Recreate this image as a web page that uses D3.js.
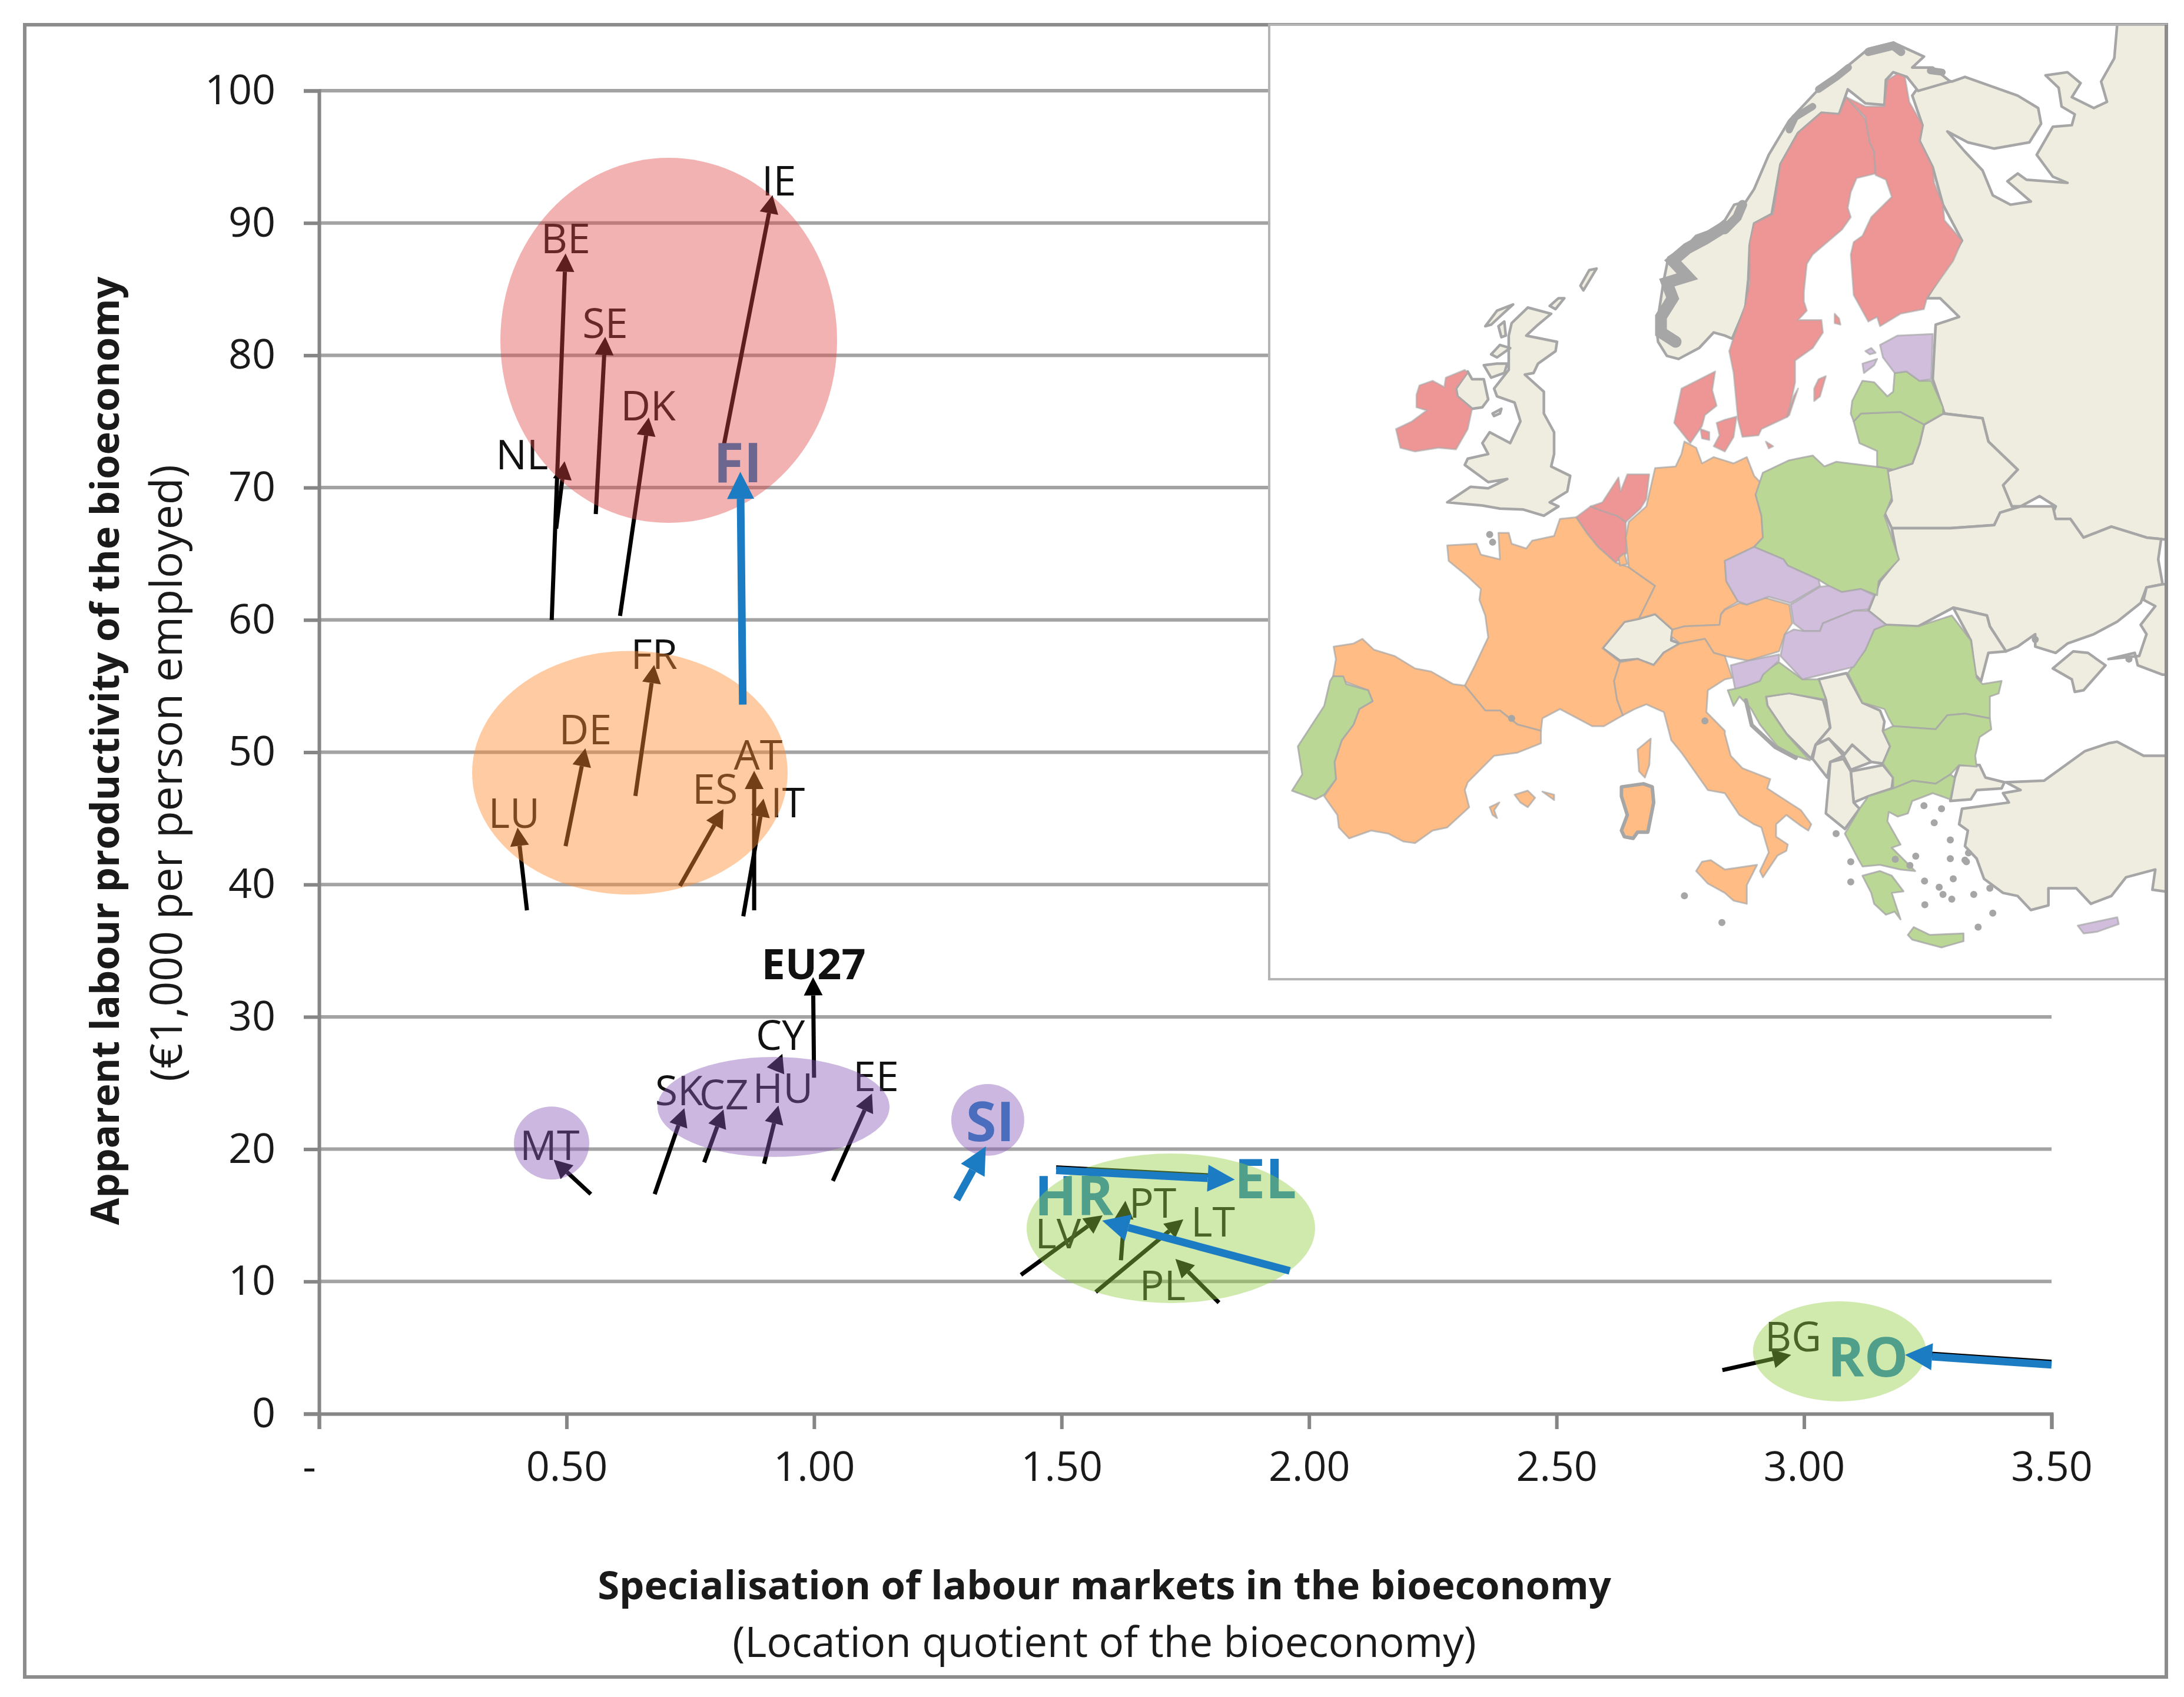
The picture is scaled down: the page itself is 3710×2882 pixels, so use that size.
<!DOCTYPE html>
<html>
<head>
<meta charset="utf-8">
<script src="https://cdn.jsdelivr.net/npm/d3@7.9.0/dist/d3.min.js"></script>
<style>
  body { margin: 0; background: #fff; }
  text { font-family: "Open Sans", sans-serif; }
  #chart { filter: blur(0.7px); }
</style>
</head>
<body>
<svg id="chart" width="3710" height="2882"></svg>
<script>
// Country codes and arrow ends
const codes = ['BE','NL','SE','DK','IE','FI','FR','DE','LU','ES','AT','IT','EU27','CY','SK','CZ','HU','EE','MT','SI','EL','HR','LV','PT','LT','PL','BG','RO'];
const lqFrom = [0.47,0.479,0.559,0.608,0.813,0.856,0.639,0.498,0.42,0.729,0.879,0.857,1.0,0.923,0.678,0.778,0.899,1.038,0.549,1.288,1.489,1.961,1.418,1.62,1.569,1.818,2.835,3.5];
const lqTo = [0.498,0.496,0.578,0.666,0.916,0.851,0.677,0.538,0.401,0.817,0.879,0.898,0.998,0.936,0.738,0.817,0.928,1.117,0.474,1.347,1.85,1.582,1.583,1.629,1.746,1.73,2.974,3.204];
const prodFrom = [60,66.9,68,60.3,72.3,53.6,46.7,42.9,38.05,39.9,38.05,37.6,25.4,26,16.6,19,18.9,17.6,16.6,16.2,18.4,10.8,10.5,11.6,9.2,8.4,3.3,3.7];
const prodTo = [87.7,72,81.4,75.3,92.1,71.2,56.6,50.3,44.3,45.7,48.6,46.5,33,27.2,23.1,23,23.3,24.2,19.2,20.2,17.7,14.6,15,16.1,14.7,11.7,4.45,4.45];

// Label centres in data units
const labelLq = [0.498,0.41,0.578,0.665,0.929,0.846,0.677,0.538,0.394,0.80,0.887,0.947,0.999,0.932,0.727,0.818,0.937,1.125,0.466,1.356,1.912,1.525,1.493,1.684,1.806,1.704,2.978,3.129];
const labelProd = [88.9,72.6,82.5,76.3,93.3,72.0,57.5,51.8,45.5,47.3,49.9,46.3,34.1,28.7,24.5,24.2,24.7,25.6,20.4,22.2,17.9,16.6,13.7,16.0,14.6,9.8,5.9,4.4];

const blueCodes = ['FI','SI','EL','HR','RO'];
const boldCodes = ['FI','SI','EL','HR','RO','EU27'];
const blackEdgeCodes = ['EL','RO'];

// Country-group ellipses (centre and radii in data units)
const clusterNames = ['high','mid','low','malta','slovenia','southeast','balkan'];
const clusterLq = [0.7064,0.6279,0.9181,0.4697,1.3509,1.7208,3.0716];
const clusterProd = [81.13,48.45,23.19,20.46,22.21,14.02,4.72];
const clusterRx = [0.3401,0.3187,0.2343,0.0761,0.0737,0.2914,0.1748];
const clusterRy = [13.8,9.21,3.78,2.76,2.71,5.65,3.78];
const clusterFill = ['rgb(225,72,72)','rgb(252,140,50)','rgb(136,91,182)','rgb(136,91,182)','rgb(136,91,182)','rgb(148,205,68)','rgb(148,205,68)'];
const clusterAlpha = [0.42,0.45,0.44,0.44,0.44,0.44,0.44];

const xTicks = [0,0.5,1,1.5,2,2.5,3,3.5];
const yTicks = [0,10,20,30,40,50,60,70,80,90,100];

// Inset map outlines, traced by hand in a 3136 x 3136 box
const russia = [[2908,20],[2898,130],[2853,205],[2873,270],[2828,290],[2753,255],[2783,210],[2738,175],[2663,185],[2708,225],[2718,285],[2763,310],[2753,345],[2688,350],[2633,440],[2688,510],[2738,530],[2598,520],[2568,500],[2533,525],[2613,590],[2543,600],[2483,570],[2448,490],[2388,430],[2328,365],[2398,400],[2488,420],[2608,400],[2648,340],[2638,290],[2568,250],[2388,190],[2343,205],[2258,185],[2208,250],[2243,345],[2233,395],[2278,480],[2313,600],[2378,715],[2258,900],[2303,900],[2368,960],[2288,985],[2278,1160],[2318,1270],[2448,1285],[2468,1360],[2568,1450],[2518,1500],[2548,1568],[2578,1568],[2643,1535],[2698,1568],[2688,1590],[2698,1608],[2748,1608],[2793,1668],[2888,1633],[3008,1668],[3058,1673],[3136,1680],[3136,0],[2908,0]];
const norway = [[1410,1095],[1370,1085],[1340,1040],[1335,1000],[1340,960],[1350,900],[1358,850],[1375,770],[1440,730],[1470,700],[1530,680],[1568,650],[1600,600],[1640,590],[1668,550],[1718,440],[1788,330],[1878,240],[1968,170],[2058,100],[2143,80],[2248,125],[2208,160],[2278,160],[2338,205],[2228,235],[2190,190],[2143,175],[2118,200],[2113,280],[2048,275],[1988,230],[1958,310],[1898,305],[1818,370],[1758,470],[1728,630],[1668,660],[1653,730],[1648,840],[1638,930],[1593,1030],[1568,1020],[1530,1010],[1480,1060]];
const belarus = [[2313,1270],[2448,1285],[2468,1360],[2568,1450],[2518,1500],[2548,1568],[2578,1568],[2508,1588],[2488,1628],[2338,1638],[2138,1638],[2113,1588],[2138,1550],[2123,1455],[2208,1430],[2233,1365],[2248,1305]];
const ukraine = [[2138,1638],[2338,1638],[2488,1628],[2508,1588],[2578,1568],[2688,1568],[2698,1608],[2748,1608],[2793,1668],[2888,1633],[3008,1668],[3058,1673],[3048,1738],[3063,1818],[3008,1828],[2988,1878],[2908,1938],[2828,1978],[2738,2008],[2698,2038],[2628,2018],[2628,1978],[2568,2018],[2528,2033],[2473,1953],[2463,1918],[2348,1893],[2228,1953],[2118,1948],[2058,1903],[2098,1808],[2158,1738]];
const crimea = [[2688,2088],[2758,2033],[2808,2038],[2868,2078],[2793,2158],[2763,2163],[2753,2123]];
const kuban = [[2878,2058],[2968,2038],[2978,2078],[3063,2108],[3136,2108],[3136,1818],[3063,1818],[3008,1828],[2998,1868],[3038,1888],[2988,1948],[3008,1978],[2983,2048]];
const moldova = [[2348,1893],[2463,1918],[2473,1953],[2528,2033],[2468,2038],[2443,2128],[2423,2108],[2408,1998]];
const turkey = [[2368,2588],[2378,2538],[2538,2518],[2518,2488],[2578,2478],[2528,2453],[2658,2448],[2798,2353],[2878,2328],[2908,2323],[2998,2368],[3068,2368],[3136,2368],[3136,2803],[3068,2803],[3028,2798],[3038,2733],[2938,2758],[2888,2818],[2818,2843],[2768,2793],[2673,2793],[2673,2848],[2613,2863],[2568,2818],[2518,2808],[2453,2763],[2428,2698],[2388,2658],[2398,2608]];
const thrace = [[2353,2438],[2368,2398],[2438,2398],[2458,2438],[2523,2453],[2513,2473],[2428,2478],[2408,2508],[2338,2513]];
const britain = [[895,930],[975,950],[930,985],[890,1020],[995,1040],[990,1070],[930,1110],[915,1140],[885,1145],[950,1200],[950,1270],[985,1330],[985,1400],[975,1440],[1040,1470],[1030,1520],[970,1555],[1000,1568],[950,1598],[880,1578],[800,1575],[740,1565],[620,1555],[700,1505],[760,1510],[825,1480],[760,1490],[680,1435],[690,1415],[760,1400],[740,1365],[765,1330],[835,1365],[870,1295],[850,1235],[790,1215],[780,1190],[830,1130],[830,1060],[830,1020],[840,980]];
const ulster = [[690,1135],[705,1160],[745,1160],[760,1225],[740,1250],[705,1255],[655,1215],[650,1190]];
const lewis = [[750,990],[790,940],[845,920],[810,950],[770,985]];
const skye = [[795,990],[815,975],[820,1020],[805,1025]];
const mull = [[770,1080],[800,1050],[835,1060],[790,1090]];
const islay = [[745,1115],[790,1110],[825,1110],[815,1140],[770,1155]];
const orkney = [[970,925],[1000,900],[1020,900],[990,935]];
const shetland = [[1075,860],[1105,810],[1130,805],[1085,875]];
const man = [[775,1270],[805,1255],[800,1270],[780,1278]];
const switzerland = [[1150,2023],[1225,1938],[1275,1928],[1330,1913],[1390,1963],[1385,1998],[1415,2008],[1360,2038],[1325,2078],[1270,2058],[1210,2063]];
const bosnia = [[1708,2178],[1788,2166],[1903,2188],[1913,2218],[1928,2278],[1878,2333],[1863,2378],[1778,2298],[1713,2208]];
const serbia = [[1888,2123],[1983,2103],[2038,2198],[2098,2223],[2113,2258],[2108,2288],[2133,2338],[2108,2393],[2068,2388],[2003,2333],[1978,2363],[1923,2313],[1878,2333],[1928,2278],[1913,2188]];
const montenegro = [[1878,2333],[1923,2313],[1973,2368],[1928,2388],[1918,2438],[1868,2378]];
const kosovo = [[2003,2333],[2068,2388],[1998,2413],[1973,2368]];
const macedonia = [[1998,2418],[2108,2398],[2143,2438],[2138,2473],[2058,2498],[2008,2518]];
const albania = [[1928,2388],[1973,2378],[1998,2418],[2008,2518],[2028,2538],[1978,2603],[1913,2553],[1923,2448]];
const beigeLand = [russia,norway,belarus,ukraine,crimea,kuban,moldova,turkey,thrace,britain,ulster,lewis,skye,mull,islay,orkney,shetland,man,switzerland,bosnia,serbia,montenegro,kosovo,macedonia,albania];

const ireland = [[525,1180],[570,1165],[610,1185],[615,1155],[680,1130],[690,1140],[650,1190],[655,1215],[705,1255],[690,1320],[650,1385],[590,1380],[510,1392],[460,1380],[445,1320],[500,1295],[550,1260],[515,1250],[515,1210]];
const sweden = [[1983,255],[2048,325],[2063,400],[2078,430],[2083,500],[2018,515],[1998,560],[1988,610],[1998,640],[1968,680],[1918,720],[1868,760],[1848,790],[1838,880],[1838,910],[1848,940],[1818,970],[1898,970],[1903,1010],[1868,1060],[1808,1100],[1808,1170],[1783,1280],[1693,1320],[1683,1340],[1628,1345],[1613,1290],[1598,1140],[1583,1070],[1593,1040],[1638,920],[1653,850],[1653,720],[1668,660],[1733,630],[1758,470],[1818,370],[1898,305],[1958,310]];
const finland = [[2158,180],[2183,190],[2198,270],[2243,345],[2233,395],[2278,480],[2283,530],[2313,600],[2318,650],[2378,715],[2348,780],[2258,900],[2248,935],[2168,950],[2098,990],[2088,960],[2058,975],[2008,890],[1998,760],[2008,720],[2038,700],[2068,640],[2138,575],[2118,520],[2083,505],[2078,430],[2063,400],[2048,320],[1983,255],[2048,285],[2113,285],[2123,200]];
const gotland = [[1913,1150],[1893,1215],[1873,1230],[1873,1190],[1888,1160]];
const oland = [[1818,1190],[1788,1275],[1780,1280],[1803,1215]];
const aland = [[1943,950],[1958,965],[1963,985],[1943,980]];
const bornholm = [[1708,1360],[1733,1375],[1718,1382]];
const jutland = [[1535,1135],[1525,1195],[1540,1245],[1500,1275],[1490,1310],[1450,1365],[1395,1300],[1420,1190]];
const funen = [[1485,1320],[1515,1330],[1515,1355],[1490,1350]];
const zealand = [[1540,1300],[1568,1290],[1608,1280],[1598,1345],[1568,1392],[1530,1375],[1550,1340]];
const belgium = [[1060,1603],[1110,1568],[1200,1598],[1230,1618],[1232,1718],[1195,1748],[1135,1698],[1100,1658]];
const netherlands = [[1150,1555],[1205,1475],[1212,1520],[1235,1465],[1310,1465],[1300,1545],[1280,1575],[1230,1618],[1200,1598],[1150,1583],[1110,1568]];
const redLand = [ireland,sweden,finland,gotland,oland,aland,bornholm,jutland,funen,zealand,belgium,netherlands];

const france = [[620,1693],[720,1688],[735,1723],[800,1738],[795,1653],[830,1653],[840,1688],[890,1703],[910,1678],[985,1663],[1005,1608],[1060,1603],[1100,1658],[1135,1698],[1195,1748],[1240,1763],[1330,1823],[1275,1928],[1225,1938],[1150,2023],[1210,2068],[1190,2128],[1200,2188],[1220,2238],[1155,2273],[1115,2273],[1005,2218],[945,2248],[940,2288],[860,2268],[800,2223],[750,2223],[680,2143],[715,2078],[760,1988],[750,1918],[730,1868],[735,1833],[690,1793],[625,1743]];
const spain = [[232,2018],[300,2008],[330,1993],[370,2028],[440,2048],[510,2088],[565,2098],[640,2138],[680,2143],[750,2223],[800,2223],[860,2268],[940,2288],[940,2328],[860,2358],[780,2368],[690,2453],[680,2478],[695,2533],[620,2598],[570,2608],[510,2648],[470,2643],[420,2618],[360,2608],[285,2633],[250,2598],[245,2558],[200,2498],[240,2443],[235,2388],[260,2318],[300,2268],[320,2218],[365,2193],[350,2158],[265,2128],[230,2113],[240,2058]];
const germany = [[1300,1568],[1330,1445],[1400,1440],[1420,1400],[1430,1360],[1470,1380],[1490,1430],[1530,1410],[1598,1430],[1643,1410],[1668,1470],[1698,1500],[1673,1530],[1693,1598],[1698,1668],[1668,1698],[1568,1743],[1573,1808],[1613,1873],[1568,1898],[1555,1913],[1550,1948],[1430,1953],[1390,1963],[1330,1913],[1275,1928],[1330,1823],[1240,1763],[1230,1668],[1240,1618]];
const luxembourg = [[1205,1733],[1225,1718],[1235,1753],[1210,1758]];
const austria = [[1390,1963],[1430,1953],[1550,1948],[1555,1915],[1568,1900],[1618,1878],[1643,1883],[1693,1858],[1788,1883],[1798,1943],[1773,1978],[1753,2033],[1648,2063],[1568,2048],[1530,2038],[1500,1993],[1415,2008],[1385,1985]];
const italy = [[1210,2068],[1270,2058],[1325,2078],[1360,2038],[1415,2008],[1500,1993],[1530,2038],[1568,2048],[1593,2118],[1568,2123],[1510,2158],[1505,2228],[1568,2288],[1568,2298],[1588,2368],[1628,2408],[1723,2443],[1713,2473],[1828,2543],[1863,2588],[1853,2608],[1828,2593],[1778,2558],[1743,2588],[1743,2628],[1783,2653],[1778,2673],[1748,2688],[1698,2758],[1688,2738],[1718,2678],[1693,2598],[1668,2588],[1618,2558],[1568,2488],[1510,2478],[1420,2358],[1385,2318],[1360,2228],[1300,2203],[1260,2218],[1220,2238],[1200,2188],[1190,2128]];
const sicily = [[1470,2738],[1490,2708],[1520,2703],[1568,2733],[1678,2718],[1643,2783],[1643,2843],[1598,2833],[1568,2808],[1510,2778]];
const sardinia = [[1215,2468],[1290,2458],[1320,2468],[1325,2518],[1305,2613],[1270,2613],[1255,2633],[1225,2628],[1215,2608],[1235,2558],[1215,2498]];
const corsica = [[1315,2313],[1310,2398],[1295,2438],[1275,2418],[1270,2348]];
const mallorca = [[850,2493],[895,2480],[920,2503],[895,2533],[870,2518]];
const menorca = [[945,2483],[985,2493],[985,2510]];
const ibiza = [[765,2533],[798,2518],[780,2543],[790,2568],[775,2558]];
const orangeLand = [france,spain,germany,luxembourg,austria,italy,sicily,sardinia,corsica,mallorca,menorca,ibiza];

const portugal = [[230,2113],[265,2113],[275,2138],[350,2158],[365,2193],[320,2218],[300,2268],[260,2318],[235,2388],[240,2443],[200,2493],[170,2508],[90,2480],[125,2428],[110,2338],[200,2208],[220,2128]];
const poland = [[1698,1460],[1788,1420],[1868,1405],[1908,1440],[1948,1425],[2123,1445],[2138,1540],[2113,1598],[2128,1638],[2163,1738],[2093,1808],[2088,1853],[2033,1833],[1968,1843],[1923,1823],[1888,1803],[1783,1758],[1768,1738],[1668,1698],[1698,1668],[1693,1598],[1673,1530]];
const lithuania = [[2008,1295],[2033,1270],[2168,1265],[2248,1305],[2233,1365],[2208,1430],[2143,1450],[2088,1440],[2088,1390],[2028,1365]];
const latvia = [[1998,1270],[2003,1230],[2038,1165],[2078,1170],[2123,1215],[2143,1200],[2148,1140],[2188,1135],[2233,1165],[2273,1165],[2313,1250],[2313,1270],[2248,1305],[2168,1265],[2033,1270],[2008,1295]];
const romania = [[1988,2103],[2048,2028],[2078,1963],[2118,1948],[2228,1953],[2343,1918],[2408,1998],[2428,2118],[2448,2138],[2513,2128],[2503,2168],[2473,2178],[2473,2248],[2388,2233],[2328,2238],[2288,2283],[2143,2273],[2128,2248],[2113,2218],[2038,2198]];
const bulgaria = [[2108,2288],[2143,2273],[2288,2283],[2328,2238],[2388,2233],[2473,2248],[2478,2283],[2438,2308],[2423,2368],[2428,2403],[2368,2398],[2338,2428],[2288,2458],[2208,2448],[2143,2473],[2143,2438],[2108,2393],[2133,2338]];
const croatia = [[1578,2158],[1603,2153],[1643,2143],[1688,2128],[1703,2098],[1753,2068],[1833,2123],[1888,2123],[1913,2188],[1788,2168],[1708,2178],[1713,2208],[1778,2298],[1858,2383],[1808,2368],[1748,2338],[1688,2268],[1658,2218],[1618,2178],[1598,2208]];
const greece = [[1978,2618],[2028,2538],[2058,2498],[2143,2473],[2208,2448],[2288,2458],[2338,2428],[2353,2438],[2338,2508],[2278,2488],[2208,2513],[2193,2553],[2158,2563],[2128,2548],[2123,2578],[2168,2653],[2138,2663],[2218,2738],[2168,2733],[2098,2718],[2038,2723],[2023,2698]];
const peloponnese = [[2038,2753],[2098,2738],[2138,2753],[2178,2803],[2138,2808],[2168,2893],[2148,2868],[2118,2878],[2078,2843],[2068,2808]];
const crete = [[2193,2943],[2213,2918],[2268,2943],[2383,2938],[2383,2963],[2308,2983],[2268,2973],[2208,2958]];
const greenLand = [portugal,poland,lithuania,latvia,romania,bulgaria,croatia,greece,peloponnese,crete];

const estonia = [[2098,1050],[2158,1020],[2278,1015],[2273,1160],[2233,1165],[2188,1135],[2148,1140],[2108,1090]];
const saaremaa = [[2038,1110],[2088,1095],[2078,1115],[2043,1140]];
const hiiumaa = [[2048,1070],[2068,1060],[2083,1075],[2063,1080]];
const czechia = [[1568,1743],[1668,1698],[1768,1738],[1783,1758],[1888,1803],[1893,1823],[1793,1878],[1718,1858],[1643,1883],[1613,1873],[1573,1808]];
const slovakia = [[1793,1883],[1893,1826],[1923,1823],[1968,1843],[2033,1833],[2078,1853],[2058,1898],[2008,1903],[1903,1943],[1893,1968],[1838,1968],[1803,1943]];
const hungary = [[1803,1963],[1838,1968],[1893,1968],[1903,1943],[2008,1903],[2058,1903],[2118,1948],[2078,1963],[2048,2028],[2008,2083],[1943,2098],[1833,2123],[1758,2048],[1773,1978]];
const slovenia = [[1588,2078],[1648,2063],[1753,2043],[1753,2063],[1698,2108],[1688,2128],[1643,2143],[1603,2153]];
const cyprus = [[2773,2913],[2908,2886],[2913,2908],[2838,2933],[2793,2938]];
const purpleLand = [estonia,saaremaa,hiiumaa,czechia,slovakia,hungary,slovenia,cyprus];

// Thick grey stretches of fjord and island coast
const fjordWest = [[1400,1040],[1350,1010],[1350,960],[1390,900],[1370,850],[1440,830],[1390,780],[1440,740],[1500,710],[1568,670]];
const fjordMid = [[1568,680],[1610,640],[1628,600]];
const fjordLofoten = [[1788,360],[1808,320],[1868,285]];
const fjordTroms = [[1888,230],[1950,190],[1990,160]];
const fjordNorth = [[2058,110],[2143,90],[2170,110]];
const fjordFinnmark = [[2270,170],[2310,175]];
const dalmatia = [[1640,2190],[1660,2270],[1740,2340],[1810,2375]];
const thickCoasts = [fjordWest,fjordMid,fjordLofoten,fjordTroms,fjordNorth,fjordFinnmark,dalmatia];
const coastWidths = [20,16,12,12,14,12,7];
const islandDots = [[2248,2528],[2308,2538],[2283,2583],[2338,2638],[2338,2698],[2388,2703],[2348,2763],[2313,2813],[2343,2828],[2251,2846],[2418,2813],[2433,2918],[2483,2873],[2473,2793],[1998,2708],[1998,2773],[1948,2618],[2393,2708],[2400,2680],[2150,2700],[2200,2720],[2250,2770],[2300,2790],[2628,1995],[2948,2058],[2220,2690],[840,2248],[1500,2256],[1430,2817],[1558,2903],[765,1658],[775,1683]];

const svg = d3.select('#chart');

const x = d3.scaleLinear().domain([0, 3.5]).range([542, 3485]);
const y = d3.scaleLinear().domain([0, 100]).range([2401, 154]);

// Outer frame
svg.append('rect')
  .attr('x', 42).attr('y', 42).attr('width', 3638).attr('height', 2806)
  .attr('fill', '#fff').attr('stroke', '#8c8c8c').attr('stroke-width', 6);

// Horizontal gridlines
svg.append('g')
  .selectAll('line')
  .data(yTicks.slice(1))
  .join('line')
  .attr('x1', x(0)).attr('x2', x(3.5))
  .attr('y1', (d) => y(d)).attr('y2', (d) => y(d))
  .attr('stroke', '#a3a3a3').attr('stroke-width', 6);

// Inset map sits on top of the gridlines
const mapX = d3.scaleLinear().domain([0, 3136]).range([2150, 3710]);
const mapY = d3.scaleLinear().domain([0, 3136]).range([30, 1690]);
const mapLine = d3.line().x((d) => mapX(d[0])).y((d) => mapY(d[1]));
const mapShape = d3.line().x((d) => mapX(d[0])).y((d) => mapY(d[1])).curve(d3.curveLinearClosed);

svg.append('defs').append('clipPath').attr('id', 'inset')
  .append('rect').attr('x', 2157).attr('y', 44).attr('width', 1521).attr('height', 1619);

svg.append('rect')
  .attr('x', 2156).attr('y', 42).attr('width', 1524).attr('height', 1621)
  .attr('fill', '#fff').attr('stroke', '#b4b4b4').attr('stroke-width', 4);

const mapG = svg.append('g').attr('clip-path', 'url(#inset)');

function drawLand(shapes, fill, strokeWidth, strokeOpacity) {
  mapG.append('g')
    .selectAll('path')
    .data(shapes)
    .join('path')
    .attr('d', mapShape)
    .attr('fill', fill)
    .attr('stroke', '#a6a6a6')
    .attr('stroke-width', strokeWidth)
    .attr('stroke-opacity', strokeOpacity)
    .attr('stroke-linejoin', 'round');
}

drawLand(beigeLand, '#efede0', 4.5, 1);
drawLand(redLand, '#ee9696', 3, 0.6);
drawLand(orangeLand, '#ffbc85', 3, 0.7);
drawLand(greenLand, '#bad795', 3, 0.8);
drawLand(purpleLand, '#d0bedc', 3, 0.7);
drawLand([sardinia], 'none', 6, 1);

mapG.append('g')
  .selectAll('path')
  .data(thickCoasts)
  .join('path')
  .attr('d', mapLine)
  .attr('fill', 'none')
  .attr('stroke', '#a6a6a6')
  .attr('stroke-width', (d, i) => coastWidths[i])
  .attr('stroke-linecap', 'round');

mapG.append('g')
  .selectAll('circle')
  .data(islandDots)
  .join('circle')
  .attr('cx', (d) => mapX(d[0]))
  .attr('cy', (d) => mapY(d[1]))
  .attr('r', 6)
  .attr('fill', '#a6a6a6');

// Right edge of the frame runs over the map
svg.append('line')
  .attr('x1', 3680).attr('x2', 3680).attr('y1', 42).attr('y2', 1700)
  .attr('stroke', '#8c8c8c').attr('stroke-width', 6);

// Axes
const xAxis = d3.axisBottom(x)
  .tickValues(xTicks)
  .tickSize(26)
  .tickPadding(38)
  .tickFormat((d) => (d === 0 ? '-' : d3.format('.2f')(d)));

const yAxis = d3.axisLeft(y)
  .tickValues(yTicks)
  .tickSize(26)
  .tickPadding(48)
  .tickFormat(d3.format('d'));

[svg.append('g').attr('transform', `translate(0,${y(0)})`).call(xAxis),
 svg.append('g').attr('transform', `translate(${x(0)},0)`).call(yAxis)].forEach((g) => {
  g.selectAll('path').attr('stroke', '#868686').attr('stroke-width', 6);
  g.selectAll('line').attr('stroke', '#868686').attr('stroke-width', 6);
  g.selectAll('text').attr('font-size', 70).attr('fill', '#1a1a1a').attr('font-family', '"Open Sans"');
});
svg.selectAll('.tick text').filter((d) => d === 0).attr('dx', function () {
  return d3.select(this).text() === '-' ? -17 : 0;
});

// Draw one arrow: shaft plus a triangular head
function drawArrow(layer, i, colour, sw, headLen, headHalf, shiftY) {
  const x0 = x(lqFrom[i]);
  const y0 = y(prodFrom[i]) + shiftY;
  const x1 = x(lqTo[i]);
  const y1 = y(prodTo[i]) + shiftY;
  const angle = Math.atan2(y1 - y0, x1 - x0);
  const baseX = x1 - headLen * Math.cos(angle);
  const baseY = y1 - headLen * Math.sin(angle);
  layer.append('line')
    .attr('x1', x0).attr('y1', y0)
    .attr('x2', baseX).attr('y2', baseY)
    .attr('stroke', colour).attr('stroke-width', sw);
  layer.append('path')
    .attr('d', d3.line()([
      [x1, y1],
      [baseX - headHalf * Math.sin(angle), baseY + headHalf * Math.cos(angle)],
      [baseX + headHalf * Math.sin(angle), baseY - headHalf * Math.cos(angle)],
    ]) + 'Z')
    .attr('fill', colour);
}

// Black arrows go under the ellipses so the ellipses tint them
const blackArrows = svg.append('g');
codes.forEach((code, i) => {
  if (!blueCodes.includes(code)) drawArrow(blackArrows, i, '#000', 7, 31, 16, 0);
  if (blackEdgeCodes.includes(code)) drawArrow(blackArrows, i, '#000', 7, 31, 0, -5);
});

// Country labels
svg.append('g')
  .selectAll('text')
  .data(codes)
  .join('text')
  .attr('x', (d, i) => x(labelLq[i]))
  .attr('y', (d, i) => y(labelProd[i]))
  .attr('text-anchor', 'middle')
  .attr('dominant-baseline', 'central')
  .attr('font-size', (d) => (d === 'EU27' ? 72 : boldCodes.includes(d) ? 94 : 70))
  .attr('font-weight', (d) => (boldCodes.includes(d) ? 700 : 400))
  .attr('fill', (d) => (blueCodes.includes(d) ? '#1b7cc3' : '#111'))
  .text((d) => d);

// Ellipses with transparency
svg.append('g')
  .selectAll('ellipse')
  .data(clusterNames)
  .join('ellipse')
  .attr('cx', (d, i) => x(clusterLq[i]))
  .attr('cy', (d, i) => y(clusterProd[i]))
  .attr('rx', (d, i) => x(clusterRx[i]) - x(0))
  .attr('ry', (d, i) => y(0) - y(clusterRy[i]))
  .attr('fill', (d, i) => clusterFill[i])
  .attr('fill-opacity', (d, i) => clusterAlpha[i]);

// Blue arrows sit above the ellipses
const blueArrows = svg.append('g');
codes.forEach((code, i) => {
  if (blueCodes.includes(code)) drawArrow(blueArrows, i, '#1b7cc3', 13, 46, 23, 0);
});

// Axis titles
svg.append('text')
  .attr('x', 1876).attr('y', 2690)
  .attr('text-anchor', 'middle').attr('dominant-baseline', 'central')
  .attr('font-size', 67).attr('font-weight', 700).attr('fill', '#1a1a1a')
  .text('Specialisation of labour markets in the bioeconomy');
svg.append('text')
  .attr('x', 1876).attr('y', 2786)
  .attr('text-anchor', 'middle').attr('dominant-baseline', 'central')
  .attr('font-size', 71).attr('fill', '#1a1a1a')
  .text('(Location quotient of the bioeconomy)');
svg.append('text')
  .attr('transform', 'translate(176,1275) rotate(-90)')
  .attr('text-anchor', 'middle').attr('dominant-baseline', 'central')
  .attr('font-size', 66.6).attr('font-weight', 700).attr('fill', '#1a1a1a')
  .text('Apparent labour productivity of the bioeconomy');
svg.append('text')
  .attr('transform', 'translate(280,1313) rotate(-90)')
  .attr('text-anchor', 'middle').attr('dominant-baseline', 'central')
  .attr('font-size', 75).attr('fill', '#1a1a1a')
  .text('(€1,000 per person employed)');
</script>
</body>
</html>
